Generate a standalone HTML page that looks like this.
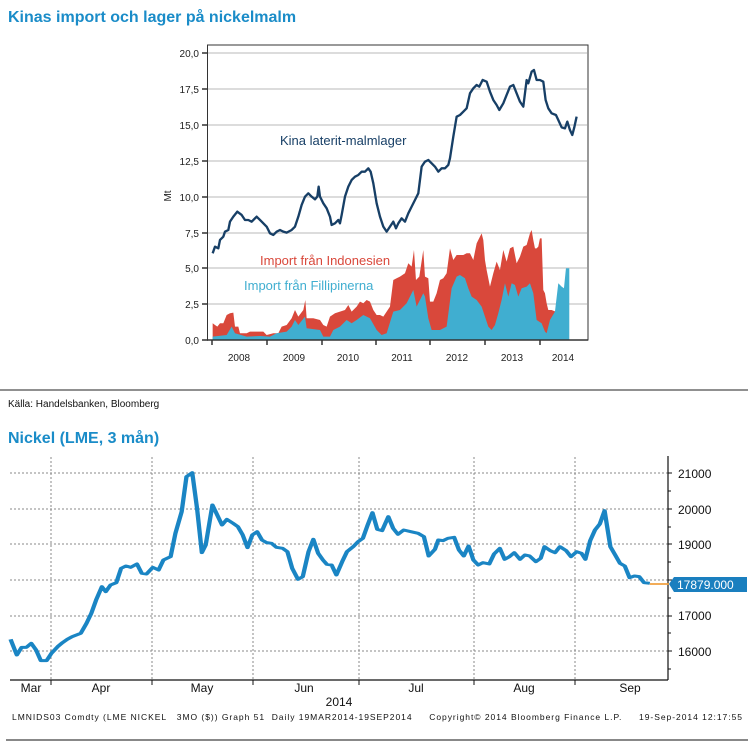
<!DOCTYPE html>
<html><head><meta charset="utf-8"><style>
body{margin:0;background:#fff;width:755px;height:745px;overflow:hidden;font-family:"Liberation Sans",sans-serif}
svg{position:absolute;left:0;top:0}
</style></head><body>
<svg width="755" height="745" viewBox="0 0 755 745" font-family="Liberation Sans, sans-serif">
<text x="8" y="22" font-size="16" font-weight="bold" fill="#1a8cc8">Kinas import och lager på nickelmalm</text>
<!-- top chart -->
<g stroke="#d0d0d0" stroke-width="1.5">
<line x1="208" x2="587" y1="53" y2="53"/><line x1="208" x2="587" y1="89" y2="89"/><line x1="208" x2="587" y1="125" y2="125"/><line x1="208" x2="587" y1="161" y2="161"/><line x1="208" x2="587" y1="197" y2="197"/><line x1="208" x2="587" y1="233" y2="233"/><line x1="208" x2="587" y1="268" y2="268"/><line x1="208" x2="587" y1="304" y2="304"/>
</g>
<g transform="translate(160,40) scale(0.3333)">
<polygon fill="#d9483b" points="158,900 158,850 165,855 172,860 180,850 190,850 200,825 210,820 220,818 225,860 235,860 240,880 260,880 270,875 290,875 310,875 320,885 340,880 355,880 365,860 380,855 395,835 405,810 415,830 430,810 436,780 440,835 460,835 480,840 490,855 500,860 510,830 525,820 540,815 555,810 565,795 575,815 590,800 600,785 610,790 620,780 630,785 640,810 650,825 660,825 670,830 680,815 690,800 700,720 710,715 720,710 735,700 745,670 755,680 762,630 768,720 778,710 790,630 795,710 805,715 810,785 820,785 830,760 840,720 850,715 860,700 870,625 880,660 890,645 900,645 910,645 920,640 930,640 940,660 950,610 960,590 965,580 970,600 975,660 980,690 990,740 1000,700 1010,665 1020,690 1030,630 1040,665 1050,625 1060,620 1070,670 1080,650 1090,620 1100,615 1110,580 1115,570 1120,600 1125,625 1130,625 1135,620 1140,595 1145,595 1150,750 1155,760 1160,790 1165,810 1175,810 1187,815 1187,900"/>
<polygon fill="#40aed0" points="158,900 158,890 200,885 215,860 225,880 260,890 300,888 330,890 350,880 380,875 395,860 405,840 415,855 435,830 440,865 480,870 490,890 510,890 520,870 540,860 560,840 575,850 590,840 610,825 630,835 650,870 665,885 680,880 700,815 720,810 740,790 760,750 770,800 790,760 795,770 805,835 815,870 840,870 860,860 875,745 890,710 900,705 915,715 925,745 935,770 950,780 965,800 975,830 985,860 995,870 1005,855 1015,820 1025,780 1035,730 1045,770 1055,730 1065,735 1075,770 1085,745 1100,740 1110,730 1120,760 1130,840 1145,850 1155,875 1160,880 1170,840 1185,815 1195,730 1205,740 1212,745 1218,685 1228,685 1228,900"/>
<polyline fill="none" stroke="#173f66" stroke-width="7" stroke-linejoin="round" points="158,640 165,620 175,625 180,600 190,590 195,575 205,570 210,545 220,530 232,515 245,525 255,540 265,540 275,545 290,530 300,540 310,550 320,560 330,580 340,585 350,575 360,570 370,575 380,578 395,570 405,560 415,530 425,495 435,470 445,460 455,470 465,478 472,470 476,440 480,470 490,490 500,505 510,530 515,555 525,550 535,540 540,550 545,525 555,470 565,440 575,420 585,410 595,405 605,395 615,395 625,385 632,395 640,430 650,490 660,530 670,560 680,575 690,560 700,545 708,565 715,550 725,535 735,545 745,520 755,500 765,480 775,460 785,380 795,365 805,360 815,370 825,380 835,395 845,385 855,385 865,375 870,355 880,290 890,230 900,225 910,215 920,205 930,160 940,145 950,135 958,140 968,120 980,125 990,155 1000,180 1010,195 1018,210 1030,190 1040,165 1050,140 1060,135 1070,160 1080,185 1090,200 1100,120 1105,130 1115,95 1122,90 1130,120 1140,120 1150,125 1157,180 1165,205 1175,220 1188,225 1195,240 1205,262 1215,265 1222,245 1230,270 1237,285 1243,262 1250,230"/>
</g>
<rect x="207.5" y="45" width="380.5" height="295" fill="none" stroke="#333" stroke-width="1"/>
<line x1="207" x2="588" y1="340" y2="340" stroke="#333" stroke-width="1.5"/>
<g stroke="#333" stroke-width="1.5"><line x1="212" x2="212" y1="340" y2="345"/><line x1="267" x2="267" y1="340" y2="345"/><line x1="322" x2="322" y1="340" y2="345"/><line x1="376" x2="376" y1="340" y2="345"/><line x1="430" x2="430" y1="340" y2="345"/><line x1="485" x2="485" y1="340" y2="345"/><line x1="540" x2="540" y1="340" y2="345"/>
<line x1="202" x2="208" y1="53" y2="53"/><line x1="202" x2="208" y1="89" y2="89"/><line x1="202" x2="208" y1="125" y2="125"/><line x1="202" x2="208" y1="161" y2="161"/><line x1="202" x2="208" y1="197" y2="197"/><line x1="202" x2="208" y1="233" y2="233"/><line x1="202" x2="208" y1="268" y2="268"/><line x1="202" x2="208" y1="304" y2="304"/><line x1="202" x2="208" y1="340" y2="340"/></g>
<g font-size="10" fill="#222" text-anchor="end">
<text x="199" y="57">20,0</text><text x="199" y="93">17,5</text><text x="199" y="129">15,0</text><text x="199" y="165">12,5</text><text x="199" y="201">10,0</text><text x="199" y="237">7,5</text><text x="199" y="272">5,0</text><text x="199" y="308">2,5</text><text x="199" y="344">0,0</text></g>
<g font-size="10" fill="#222" text-anchor="middle">
<text x="239" y="361">2008</text><text x="294" y="361">2009</text><text x="348" y="361">2010</text><text x="402" y="361">2011</text><text x="457" y="361">2012</text><text x="512" y="361">2013</text><text x="563" y="361">2014</text></g>
<text transform="translate(171,196) rotate(-90)" font-size="10" fill="#222" text-anchor="middle">Mt</text>
<text x="280" y="145" font-size="13" fill="#173f66">Kina laterit-malmlager</text>
<text x="260" y="265" font-size="13" fill="#d9483b">Import från Indonesien</text>
<text x="244" y="290" font-size="13" fill="#40aed0">Import från Fillipinerna</text>
<line x1="0" x2="748" y1="390" y2="390" stroke="#222" stroke-width="1"/>
<text x="8" y="407" font-size="10" fill="#111">Källa: Handelsbanken, Bloomberg</text>
<text x="8" y="443" font-size="16" font-weight="bold" fill="#1a8cc8">Nickel (LME, 3 mån)</text>
<!-- bottom chart -->
<g stroke="#888" stroke-width="1" stroke-dasharray="2,2">
<line x1="10" x2="668" y1="473" y2="473"/><line x1="10" x2="668" y1="509" y2="509"/><line x1="10" x2="668" y1="544" y2="544"/><line x1="10" x2="668" y1="580" y2="580"/><line x1="10" x2="668" y1="616" y2="616"/><line x1="10" x2="668" y1="651" y2="651"/>
<line x1="51" x2="51" y1="457" y2="680"/><line x1="152" x2="152" y1="457" y2="680"/><line x1="253" x2="253" y1="457" y2="680"/><line x1="359" x2="359" y1="457" y2="680"/><line x1="474" x2="474" y1="457" y2="680"/><line x1="575" x2="575" y1="457" y2="680"/></g>
<line x1="10" x2="668" y1="680" y2="680" stroke="#111" stroke-width="1.2"/>
<line x1="668" x2="668" y1="456" y2="680" stroke="#111" stroke-width="1.2"/>
<g stroke="#111" stroke-width="1"><line x1="51" x2="51" y1="680" y2="685"/><line x1="152" x2="152" y1="680" y2="685"/><line x1="253" x2="253" y1="680" y2="685"/><line x1="359" x2="359" y1="680" y2="685"/><line x1="474" x2="474" y1="680" y2="685"/><line x1="575" x2="575" y1="680" y2="685"/>
<line x1="668" x2="672" y1="473" y2="473"/><line x1="668" x2="672" y1="509" y2="509"/><line x1="668" x2="672" y1="544" y2="544"/><line x1="668" x2="672" y1="580" y2="580"/><line x1="668" x2="672" y1="616" y2="616"/><line x1="668" x2="672" y1="651" y2="651"/>
<line x1="668" x2="671" y1="491" y2="491"/><line x1="668" x2="671" y1="527" y2="527"/><line x1="668" x2="671" y1="562" y2="562"/><line x1="668" x2="671" y1="598" y2="598"/><line x1="668" x2="671" y1="633" y2="633"/><line x1="668" x2="671" y1="669" y2="669"/></g>
<g transform="translate(0,450) scale(0.4806,0.3333)">
<line x1="1352" x2="1392" y1="402" y2="402" stroke="#f0a040" stroke-width="5"/>
<polyline fill="none" stroke="#1a85c4" stroke-width="9" stroke-linejoin="round" points="22,568 35,615 45,592 55,592 65,580 75,600 85,632 97,632 107,610 120,590 130,578 140,568 150,560 168,550 180,520 190,490 200,450 212,410 220,425 230,405 242,398 252,355 262,348 272,352 285,342 295,370 305,372 318,352 330,360 340,330 355,320 365,250 378,185 388,80 400,68 410,175 420,308 428,285 442,165 452,195 462,225 472,208 485,220 495,230 505,255 515,293 525,255 535,245 545,270 555,278 565,280 575,292 588,295 598,305 608,355 620,388 630,380 642,305 652,268 662,310 672,330 680,343 690,345 700,375 712,335 722,305 735,290 745,275 755,265 765,225 775,188 785,238 795,242 808,200 818,235 828,253 840,240 855,245 870,250 882,260 892,318 905,298 912,270 922,272 932,265 945,262 955,300 965,318 975,288 985,330 995,345 1005,338 1018,342 1028,312 1040,295 1050,328 1060,320 1070,308 1082,328 1092,315 1102,318 1115,335 1125,325 1133,290 1145,302 1155,308 1165,290 1178,302 1188,320 1200,305 1210,310 1218,328 1228,272 1238,240 1248,222 1258,182 1270,290 1280,315 1290,340 1300,348 1310,383 1320,378 1330,380 1340,398 1352,400"/>
</g>
<polygon points="669,584 674,577 747,577 747,592 674,592" fill="#1a7fbf"/>
<text x="677" y="589" font-size="12" fill="#fff">17879.000</text>
<g font-size="12" fill="#111">
<text x="678" y="478">21000</text><text x="678" y="514">20000</text><text x="678" y="549">19000</text><text x="678" y="620">17000</text><text x="678" y="656">16000</text></g>
<g font-size="12" fill="#111" text-anchor="middle">
<text x="31" y="692">Mar</text><text x="101" y="692">Apr</text><text x="202" y="692">May</text><text x="304" y="692">Jun</text><text x="416" y="692">Jul</text><text x="524" y="692">Aug</text><text x="630" y="692">Sep</text><text x="339" y="706">2014</text></g>
<text x="12" y="720" font-size="8.5" fill="#111" font-family="Liberation Sans, sans-serif" textLength="730" xml:space="preserve">LMNIDS03 Comdty (LME NICKEL   3MO ($)) Graph 51  Daily 19MAR2014-19SEP2014     Copyright© 2014 Bloomberg Finance L.P.     19-Sep-2014 12:17:55</text>
<line x1="6" x2="748" y1="740" y2="740" stroke="#111" stroke-width="1"/>
</svg>
</body></html>
